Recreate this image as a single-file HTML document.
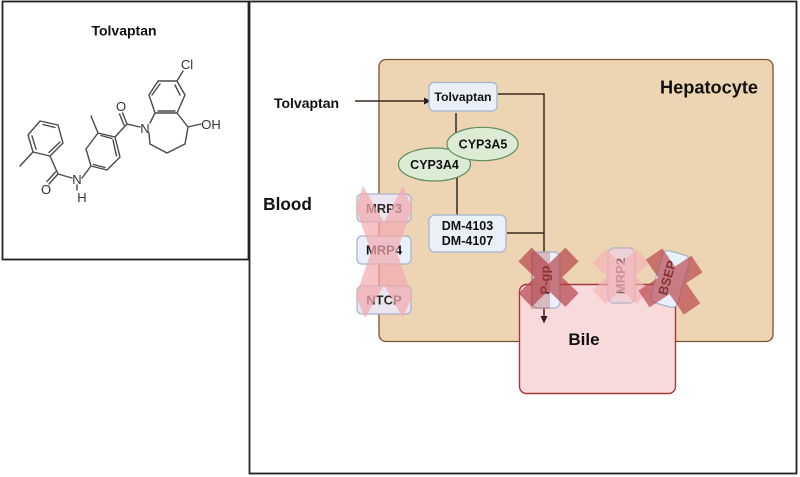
<!DOCTYPE html>
<html><head><meta charset="utf-8"><style>
html,body{margin:0;padding:0;background:#fff}
svg{display:block}
text{font-family:"Liberation Sans",sans-serif;fill:#111}
.b{font-weight:bold}
.m{fill:none;stroke:#4a4a4a;stroke-width:1.4;stroke-linecap:round;stroke-linejoin:round}
.a{font-size:13px;fill:#333}
.l{fill:none;stroke:#3a2a1c;stroke-width:1.5}
.t{fill:#e9f0fa;stroke:#a3b4cc;stroke-width:1.2}
.e{fill:#dcebd3;stroke:#5f8d5f;stroke-width:1.2}
</style></head><body>
<svg width="800" height="477" viewBox="0 0 800 477" xmlns="http://www.w3.org/2000/svg">
<rect width="800" height="477" fill="#fff"/>
<rect x="2.5" y="1.5" width="246" height="258" fill="#fff" stroke="#222" stroke-width="1.8"/>
<rect x="249.5" y="1.5" width="547" height="472" fill="#fff" stroke="#222" stroke-width="1.8"/>
<text x="124" y="35.500" text-anchor="middle" class="b" font-size="14">Tolvaptan</text>

<path class="m" d="M40 121L58 125L63 143L50 156L33 152L28 135Z M43 124.500L55 127.500M60 142L49 152.500M32 136L36 149 M33 152L20 166 M50 156L58 174 M58 174L49 184M55.500 172L47 181.500 M58 174L72 178 M82 178L91 166 M77 185V190 M91 166L107 170L120 157L115 137L98 133L86 149Z M93.500 164.500L105 167.500M116.500 156L113 140M101 135.500L112 138.500 M98 133L91 116 M115 137L127 124 M127 124L122.500 113M124 125L119.500 114 M127 124L140 127 M150 123L155 113L177 113L185 95L177 81L158 81L149 95L155 113 M158 111H175M180 95L175 85M160 84L152 95 M177 81L183 71 M149 133L150 144L167 153L185 144L188 127L177 113 M188 127L201 124"/>
<text x="46" y="194" text-anchor="middle" class="a">O</text>
<text x="77" y="184" text-anchor="middle" class="a">N</text>
<text x="82" y="202" text-anchor="middle" class="a">H</text>
<text x="121" y="111" text-anchor="middle" class="a">O</text>
<text x="145" y="133" text-anchor="middle" class="a">N</text>
<text x="187" y="69" text-anchor="middle" class="a">Cl</text>
<text x="211" y="129" text-anchor="middle" class="a">OH</text>

<rect x="379" y="59.500" width="394" height="282" rx="7" fill="#edd4b2" stroke="#7e5330" stroke-width="1.3"/>
<rect x="519.500" y="284.500" width="156" height="109" rx="7" fill="#f8dadb" stroke="#a2393c" stroke-width="1.4"/>

<text x="709" y="93.500" text-anchor="middle" class="b" font-size="18.200">Hepatocyte</text>
<text x="287.500" y="210" text-anchor="middle" class="b" font-size="17.200">Blood</text>
<text x="584" y="345" text-anchor="middle" class="b" font-size="17">Bile</text>
<text x="306.500" y="108" text-anchor="middle" class="b" font-size="14">Tolvaptan</text>

<path class="l" d="M355 101H424 M498 94H544V258 M456 113V133 M457 178V215 M507 233H544 M544 300V319"/>
<path d="M424 97.500L431 101L424 104.500Z M540.500 316L544 323.500L547.500 316Z" fill="#2a1f16"/>

<rect x="429" y="82.500" width="68" height="28.500" rx="5" class="t"/>
<text x="463" y="101" text-anchor="middle" class="b" font-size="12.300">Tolvaptan</text>
<rect x="429" y="215" width="77" height="37" rx="6" class="t"/>
<text x="467.500" y="230" text-anchor="middle" class="b" font-size="12.500">DM-4103</text>
<text x="467.500" y="245" text-anchor="middle" class="b" font-size="12.500">DM-4107</text>
<ellipse cx="434.500" cy="164.500" rx="36" ry="16.500" class="e"/>
<ellipse cx="482.500" cy="144" rx="35.500" ry="16.700" class="e"/>
<text x="434.500" y="169" text-anchor="middle" class="b" font-size="12.500">CYP3A4</text>
<text x="483" y="148.500" text-anchor="middle" class="b" font-size="12.500">CYP3A5</text>

<rect x="357" y="194" width="54" height="28" rx="5" class="t"/>
<rect x="357" y="236" width="54" height="28" rx="5" class="t"/>
<rect x="357" y="286" width="54" height="28" rx="5" class="t"/>
<text x="384" y="213" text-anchor="middle" class="b" font-size="13">MRP3</text>
<text x="384" y="254.500" text-anchor="middle" class="b" font-size="13">MRP4</text>
<text x="384" y="304.500" text-anchor="middle" class="b" font-size="13">NTCP</text>
<path d="M363 186L384 222L403 186L412 208L397 252L412 296L403 318L384 285L365 318L356 296L371 252L356 208Z" fill="#f2aab0" fill-opacity=".72"/>
<rect x="357" y="194" width="54" height="28" rx="5" fill="#f2aab0" fill-opacity=".15"/>
<rect x="357" y="286" width="54" height="28" rx="5" fill="#f2aab0" fill-opacity=".15"/>

<rect x="532" y="252" width="28" height="56" rx="6" class="t"/>
<text transform="translate(549.500,280) rotate(-90)" text-anchor="middle" class="b" font-size="13">P-gp</text>
<path d="M525 254.500L572 300M572 254.500L525 300" stroke="#b23f45" stroke-opacity=".68" stroke-width="19" fill="none"/>
<rect x="531" y="252" width="19" height="57" fill="#b23f45" fill-opacity=".3"/>

<rect x="608" y="248" width="27" height="55" rx="6" class="t"/>
<text transform="translate(625,276) rotate(-90)" text-anchor="middle" class="b" font-size="13">MRP2</text>
<path d="M599 256L643 297M643 256L599 297" stroke="#f4b0b3" stroke-opacity=".65" stroke-width="19" fill="none"/>
<rect x="608" y="248" width="27" height="55" rx="6" fill="#f4b0b3" fill-opacity=".5"/>

<rect x="656" y="252" width="28" height="54" rx="6" class="t" transform="rotate(16 670 279)"/>
<text transform="translate(671.500,279) rotate(-74)" text-anchor="middle" class="b" font-size="13">BSEP</text>
<path d="M654 254L692 309M697 264L644 299" stroke="#b8444a" stroke-opacity=".68" stroke-width="20" fill="none"/>
</svg>
</body></html>
